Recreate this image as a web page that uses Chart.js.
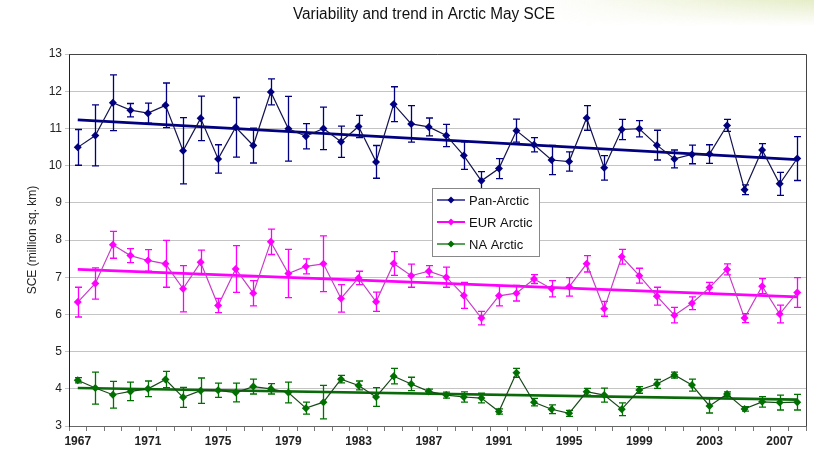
<!DOCTYPE html>
<html>
<head>
<meta charset="utf-8">
<script src="https://cdn.jsdelivr.net/npm/chart.js@4.4.1/dist/chart.umd.min.js"></script>
<style>
  html, body { margin: 0; padding: 0; background: #fff; }
  #wrap { position: relative; width: 814px; height: 458px; }
  #tint { position: absolute; left: 540px; top: 0; width: 274px; height: 26px;
          background: linear-gradient(to right, rgba(255,255,255,0), rgba(210,224,160,0.6));
          -webkit-mask-image: linear-gradient(to bottom, #000, rgba(0,0,0,0)); }
  canvas { position: absolute; left: 0; top: 0; }
</style>
</head>
<body>
<div id="wrap">
  <div id="tint"></div>
  <canvas id="sceChart" width="814" height="458"></canvas>
</div>
<script>
// May snow cover extent, million sq. km
const years = ['1967','1968','1969','1970','1971','1972','1973','1974','1975','1976','1977','1978','1979','1980',
               '1981','1982','1983','1984','1985','1986','1987','1988','1989','1990','1991','1992','1993','1994',
               '1995','1996','1997','1998','1999','2000','2001','2002','2003','2004','2005','2006','2007','2008'];

const panArctic = [10.49,10.81,11.69,11.49,11.41,11.62,10.40,11.27,10.18,11.03,10.54,11.98,10.99,10.79,
                   11.00,10.64,11.05,10.10,11.65,11.12,11.04,10.81,10.27,9.59,9.92,10.94,10.56,10.15,
                   10.11,11.28,9.94,10.97,10.99,10.55,10.18,10.30,10.31,11.08,9.35,10.42,9.51,10.19];
const panErr = [0.48,0.82,0.75,0.18,0.27,0.60,0.89,0.60,0.38,0.80,0.47,0.35,0.87,0.34,
                0.57,0.42,0.30,0.44,0.47,0.49,0.24,0.30,0.37,0.25,0.27,0.31,0.19,0.39,
                0.26,0.33,0.33,0.27,0.22,0.40,0.24,0.25,0.25,0.16,0.13,0.17,0.31,0.59];

const eurArctic = [6.33,6.83,7.87,7.58,7.45,7.36,6.69,7.40,6.24,7.22,6.57,7.95,7.10,7.29,
                   7.36,6.43,6.98,6.34,7.37,7.04,7.16,7.00,6.51,5.90,6.50,6.57,6.95,6.69,
                   6.74,7.36,6.15,7.55,7.04,6.49,5.98,6.30,6.72,7.21,5.90,6.76,6.01,6.59];
const eurErr = [0.40,0.42,0.36,0.19,0.29,0.63,0.62,0.33,0.19,0.63,0.34,0.34,0.65,0.20,
                0.75,0.37,0.18,0.26,0.32,0.31,0.15,0.27,0.35,0.18,0.27,0.21,0.12,0.22,
                0.25,0.22,0.20,0.20,0.20,0.24,0.21,0.17,0.14,0.15,0.12,0.20,0.24,0.40];

const naArctic = [4.23,4.02,3.84,3.93,4.00,4.25,3.77,3.95,3.96,3.90,4.06,4.00,3.90,3.48,
                  3.64,4.26,4.09,3.78,4.34,4.13,3.93,3.83,3.78,3.75,3.39,4.43,3.64,3.45,
                  3.34,3.92,3.83,3.45,3.97,4.13,4.37,4.10,3.54,3.86,3.46,3.65,3.63,3.64];
const naErr = [0.07,0.43,0.36,0.25,0.21,0.22,0.27,0.34,0.19,0.25,0.20,0.14,0.28,0.16,
               0.45,0.10,0.12,0.25,0.21,0.18,0.06,0.08,0.14,0.13,0.07,0.12,0.10,0.12,
               0.08,0.09,0.19,0.17,0.09,0.12,0.08,0.16,0.19,0.06,0.06,0.14,0.20,0.21];

// linear trend end points (first year, last year)
const panTrend = [11.23, 10.16];
const eurTrend = [7.21, 6.47];
const naTrend = [4.02, 3.71];

const yTicks = [3, 4, 5, 6, 7, 8, 9, 10, 11, 12, 13];

const NAVY = '#000080', MAGENTA = '#ff00ff', GREEN = '#007000';

function seriesSet(label, values, errs, color, lineColor) {
    return {
        label: label,
        data: values,
        errors: errs,
        errColor: color,
        borderColor: lineColor,
        backgroundColor: color,
        borderWidth: 1.2,
        pointStyle: 'rectRot',
        pointRadius: 4,
        pointBorderWidth: 0,
        pointBackgroundColor: color,
        tension: 0,
        order: 1
    };
}

function trendSet(ends, color) {
    return {
        label: 'trend',
        data: [{ x: years[0], y: ends[0] }, { x: years[years.length - 1], y: ends[1] }],
        borderColor: color,
        borderWidth: 2.6,
        pointRadius: 0,
        isTrend: true,
        order: 2
    };
}

// vertical error bars with caps
const errorBars = {
    id: 'errorBars',
    beforeDatasetsDraw(chart) {
        const { ctx } = chart;
        const yScale = chart.scales.y;
        chart.data.datasets.forEach((ds, i) => {
            if (!ds.errors) return;
            const meta = chart.getDatasetMeta(i);
            ctx.save();
            ctx.strokeStyle = ds.errColor;
            ctx.lineWidth = 1.3;
            meta.data.forEach((pt, j) => {
                const v = ds.data[j], e = ds.errors[j];
                const top = yScale.getPixelForValue(v + e);
                const bot = yScale.getPixelForValue(v - e);
                const x = Math.round(pt.x) + 0.5;
                ctx.beginPath();
                ctx.moveTo(x, top); ctx.lineTo(x, bot);
                ctx.moveTo(x - 3.5, top); ctx.lineTo(x + 3.5, top);
                ctx.moveTo(x - 3.5, bot); ctx.lineTo(x + 3.5, bot);
                ctx.stroke();
            });
            ctx.restore();
        });
    }
};

// frame, title and the boxed legend inside the plot
const decorations = {
    id: 'decorations',
    afterDraw(chart) {
        const { ctx, chartArea } = chart;
        ctx.save();
        ctx.strokeStyle = '#444';
        ctx.lineWidth = 1;
        ctx.beginPath();
        ctx.moveTo(chartArea.left, chartArea.top + 0.5);
        ctx.lineTo(chartArea.right + 0.5, chartArea.top + 0.5);
        ctx.lineTo(chartArea.right + 0.5, chartArea.bottom);
        ctx.stroke();

        // title, squeezed a little like the narrow face of the original
        const title = 'Variability and trend in Arctic May SCE';
        ctx.fillStyle = '#111';
        ctx.font = '16px "Liberation Sans", Arial, sans-serif';
        ctx.textAlign = 'center';
        ctx.textBaseline = 'middle';
        const sx = Math.min(1, 262 / ctx.measureText(title).width);
        ctx.save();
        ctx.translate(424, 15);
        ctx.scale(sx, 1);
        ctx.fillText(title, 0, 0);
        ctx.restore();

        // legend
        const lx = 432, ly = 188, lw = 107, lh = 68;
        ctx.fillStyle = '#fff';
        ctx.fillRect(lx, ly, lw, lh);
        ctx.strokeStyle = '#888';
        ctx.lineWidth = 1;
        ctx.strokeRect(lx + 0.5, ly + 0.5, lw, lh);
        const items = chart.data.datasets.filter(d => !d.isTrend);
        ctx.font = '13px "Liberation Sans", Arial, sans-serif';
        ctx.textAlign = 'left';
        items.forEach((d, k) => {
            const cy = ly + 12 + k * 22;
            ctx.strokeStyle = d.errColor;
            ctx.lineWidth = d.errColor === MAGENTA ? 2 : 1.3;
            ctx.beginPath();
            ctx.moveTo(lx + 5, cy); ctx.lineTo(lx + 33, cy);
            ctx.stroke();
            ctx.fillStyle = d.errColor;
            ctx.beginPath();
            ctx.moveTo(lx + 19, cy - 3.5); ctx.lineTo(lx + 22.5, cy);
            ctx.lineTo(lx + 19, cy + 3.5); ctx.lineTo(lx + 15.5, cy);
            ctx.closePath(); ctx.fill();
            ctx.fillStyle = '#111';
            ctx.fillText(d.label, lx + 37, cy + 1);
        });
        ctx.restore();
    }
};

new Chart(document.getElementById('sceChart'), {
    type: 'line',
    data: {
        labels: years,
        datasets: [
            seriesSet('Pan-Arctic', panArctic, panErr, NAVY, '#141450'),
            seriesSet('EUR Arctic', eurArctic, eurErr, MAGENTA, '#c83cc8'),
            seriesSet('NA Arctic', naArctic, naErr, GREEN, '#184a18'),
            trendSet(panTrend, NAVY),
            trendSet(eurTrend, MAGENTA),
            trendSet(naTrend, '#0a6a0a')
        ]
    },
    options: {
        responsive: false,
        animation: false,
        layout: { padding: { top: 54, right: 8, left: 0, bottom: 0 } },
        plugins: {
            legend: { display: false },
            title: { display: false },
            tooltip: { enabled: false }
        },
        scales: {
            x: {
                offset: true,
                grid: { offset: true, drawOnChartArea: false, drawTicks: true, tickLength: 5, color: '#777' },
                border: { color: '#666' },
                ticks: {
                    autoSkip: false,
                    maxRotation: 0,
                    padding: 3,
                    color: '#222',
                    font: { family: 'Liberation Sans, Arial, sans-serif', size: 12, weight: 'bold' },
                    callback: (v, i) => (i % 4 === 0 ? years[i] : '')
                },
                afterFit: s => { s.height = 32; }
            },
            y: {
                min: 3,
                max: 13,
                afterBuildTicks: s => { s.ticks = yTicks.map(v => ({ value: v })); },
                grid: { color: '#c4c4c4', tickLength: 4, drawTicks: true },
                border: { color: '#222' },
                ticks: {
                    color: '#222',
                    padding: 3,
                    font: { family: 'Liberation Sans, Arial, sans-serif', size: 12 }
                },
                title: {
                    display: true,
                    text: 'SCE (million sq. km)',
                    color: '#222',
                    padding: { top: 25, bottom: 0 },
                    font: { family: 'Liberation Sans, Arial, sans-serif', size: 12 }
                },
                afterFit: s => { s.width = 69; }
            }
        }
    },
    plugins: [errorBars, decorations]
});
</script>
</body>
</html>
